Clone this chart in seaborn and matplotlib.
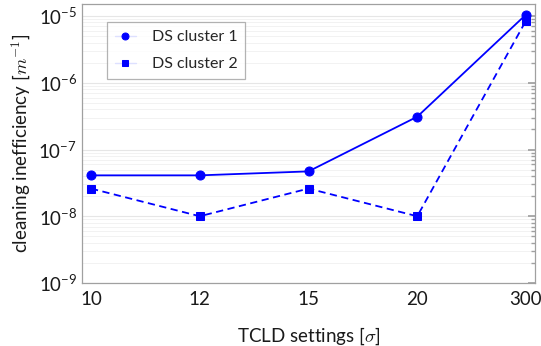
import numpy as np
import pandas as pd
import matplotlib
matplotlib.use("Agg")
import matplotlib.pyplot as plt
from matplotlib.ticker import FixedLocator, NullFormatter, LogFormatterMathtext
import seaborn as sns

settings = ["10", "12", "15", "20", "300"]
cluster1 = [4.1e-8, 4.1e-8, 4.7e-8, 3.1e-7, 1.05e-5]
cluster2 = [2.6e-8, 1.0e-8, 2.6e-8, 1.0e-8, 8.5e-6]
series_names = ["DS cluster 1", "DS cluster 2"]
decades = [-9, -8, -7, -6, -5]

rows = []
for name, vals in zip(series_names, [cluster1, cluster2]):
    for i, v in enumerate(vals):
        rows.append({"pos": i, "value": v, "series": name})
df = pd.DataFrame(rows)

sns.set_theme(style="white")
plt.rcParams["font.family"] = ["Lato", "DejaVu Sans"]
plt.rcParams["mathtext.fontset"] = "cm"

fig = plt.figure(figsize=(5.41, 3.46), dpi=100)
ax = fig.add_axes([82 / 541, 1 - 283 / 346, (535 - 82) / 541, (283 - 4) / 346])

blue = "#0000ff"
sns.lineplot(
    data=df, x="pos", y="value", hue="series", style="series",
    palette=[blue, blue], markers=["o", "s"], dashes=[(None, None), (4, 2.5)],
    markersize=6.5, linewidth=1.3, markeredgecolor=blue, ax=ax, legend=True,
)
# squares slightly smaller than the circles
ax.get_lines()[1].set_markersize(5.2)

ax.set_yscale("log")
ax.set_ylim(1e-9, 10 ** -4.82)
ax.set_xlim(-0.083, 4.083)
ax.set_xticks(range(len(settings)))
ax.set_xticklabels(settings)

major = [10.0 ** d for d in decades]
minor = [m * 10.0 ** d for d in decades for m in range(2, 10) if m * 10.0 ** d < 10 ** -4.82]
ax.yaxis.set_major_locator(FixedLocator(major))
ax.yaxis.set_major_formatter(LogFormatterMathtext())
ax.yaxis.set_minor_locator(FixedLocator(minor))
ax.yaxis.set_minor_formatter(NullFormatter())

ax.grid(True, which="major", axis="y", color="#e6e6e6", linewidth=0.8)
ax.grid(True, which="minor", axis="y", color="#f0f0f0", linewidth=0.6)
ax.set_axisbelow(True)

for s in ax.spines.values():
    s.set_color("#a0a0a0")
    s.set_linewidth(0.9)

ax.tick_params(axis="both", which="both", direction="in", colors="#a0a0a0",
               labelcolor="#1a1a1a", labelsize=13.5, top=False, right=True)
ax.tick_params(axis="both", which="major", length=5)
ax.tick_params(axis="y", which="minor", length=3)
ax.tick_params(axis="x", pad=6)

ax.set_xlabel(r"TCLD settings [$\sigma$]", fontsize=13.5, color="#1a1a1a", labelpad=12)
ax.set_ylabel(r"cleaning inefficiency [$m^{-1}$]", fontsize=13.5, color="#1a1a1a", labelpad=4)

leg = ax.legend(loc="upper left", bbox_to_anchor=(0.055, 0.935), borderaxespad=0,
                fontsize=11.5, frameon=True, fancybox=False, edgecolor="#a0a0a0",
                handlelength=1.3, handletextpad=1.0, borderpad=0.5, labelspacing=0.8)
leg.get_frame().set_linewidth(0.9)
for h in leg.get_lines():
    h.set_color("#dde0ff")
    h.set_linestyle("-")
    h.set_linewidth(1.0)
    h.set_markerfacecolor(blue)
    h.set_markeredgecolor(blue)
    h.set_markersize(5)

fig.savefig("out.png", dpi=100)
